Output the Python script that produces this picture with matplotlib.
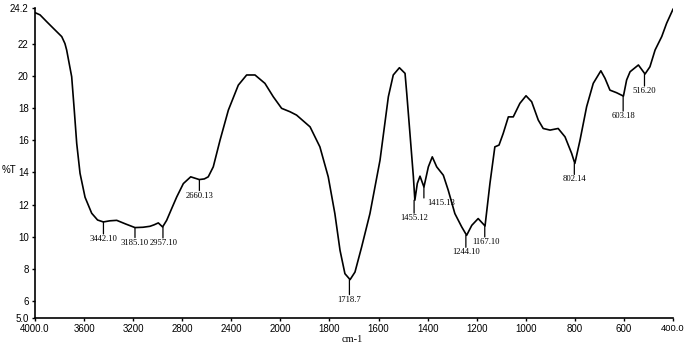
import numpy as np
import matplotlib
matplotlib.use("Agg")
import matplotlib.pyplot as plt

# FTIR spectrum (wavenumber cm-1, %T)
wavenumber = [4000, 3959, 3905, 3851, 3782, 3756, 3742, 3701, 3680, 3660, 3633, 3592, 3538, 3490, 3443,
              3390, 3334, 3260, 3185, 3120, 3063, 3030, 2995, 2960, 2927, 2886, 2845,
              2791, 2731, 2661, 2620, 2588, 2547, 2492, 2424, 2343, 2275, 2207, 2126,
              2058, 1995, 1961, 1934, 1879, 1839, 1805, 1778, 1757, 1737, 1716, 1696,
              1669, 1635, 1594, 1560, 1540, 1515, 1492, 1485, 1472, 1458, 1452, 1442,
              1431, 1415, 1397, 1381, 1363, 1336, 1316, 1289, 1261, 1241, 1220, 1194,
              1166, 1146, 1126, 1109, 1092, 1071, 1051, 1024, 999, 976, 949, 929,
              901, 868, 840, 813, 800, 779, 752, 725, 694, 677, 657, 630,
              602, 589, 575, 541, 514, 494, 473, 446, 426, 400]
transmittance = [23.92, 23.78, 23.36, 22.95, 22.43, 22.0, 21.6, 19.94, 17.87, 15.8, 13.95, 12.46, 11.47, 11.05, 10.93,
                 11.0, 11.03, 10.8, 10.58, 10.6, 10.66, 10.75, 10.87, 10.62, 11.03, 11.76, 12.48,
                 13.31, 13.73, 13.56, 13.6, 13.73, 14.35, 16.0, 17.87, 19.42, 20.05, 20.05, 19.53,
                 18.7, 17.98, 17.77, 17.56, 16.83, 15.59, 13.73, 11.45, 9.17, 7.72, 7.35, 7.82,
                 9.37, 11.45, 14.76, 18.7, 20.05, 20.5, 20.15, 18.9, 16.42, 13.73, 12.28, 13.32,
                 13.77, 13.1, 14.35, 14.97, 14.35, 13.83, 12.9, 11.45, 10.62, 10.1, 10.72, 11.14,
                 10.68, 13.32, 15.59, 15.7, 16.42, 17.45, 17.45, 18.29, 18.76, 18.39, 17.25, 16.73,
                 16.63, 16.73, 16.21, 15.18, 14.56, 16.0, 18.08, 19.53, 20.31, 19.84, 19.11, 18.95,
                 18.74, 19.74, 20.25, 20.67, 20.11, 20.56, 21.6, 22.43, 23.26, 24.13]

peak_pos = [3442.10, 3185.10, 2957.10, 2660.13, 1718.7, 1455.12, 1415.13,
            1244.10, 1167.10, 802.14, 603.18, 516.20]
peak_val = [10.93, 10.58, 10.62, 13.56, 7.35, 12.28, 13.1,
            10.1, 10.68, 14.56, 18.74, 20.11]
peak_text = ["3442.10", "3185.10", "2957.10", "2660.13", "1718.7", "1455.12", "1415.13",
             "1244.10", "1167.10", "802.14", "603.18", "516.20"]

x_ticks = [4000, 3600, 3200, 2800, 2400, 2000, 1800, 1600, 1400, 1200, 1000, 800, 600, 400]
x_tick_text = ["4000.0", "3600", "3200", "2800", "2400", "2000", "1800", "1600",
               "1400", "1200", "1000", "800", "600", "400.0"]
y_ticks = [5, 6, 8, 10, 12, 14, 16, 18, 20, 22, 24.2]
y_tick_text = ["5.0", "6", "8", "10", "12", "14", "16", "18", "20", "22", "24.2"]

# label placement (pixels below the peak, horizontal shift)
label_drop = [17, 15, 16, 16, 20, 18, 16, 17, 16, 16, 20, 17]
label_shift = [0, 0, 1, 0, 0, 0, 17, 0, 1, 0, 0, 0]


# split axis: 4000-2000 compressed, 2000-400 doubled (increasing in w)
def fwd(w):
    w = np.asarray(w, dtype=float)
    return -np.where(w >= 2000, (4000 - w) / 400, 5 + (2000 - w) / 200)


def inv(u):
    u = -np.asarray(u, dtype=float)
    return np.where(u <= 5, 4000 - 400 * u, 2000 - 200 * (u - 5))


fig = plt.figure(figsize=(6.85, 3.45), dpi=100)
ax = fig.add_axes([35 / 685, 0.0797, 638 / 685, 0.8968])
ax.set_xscale("function", functions=(fwd, inv))
ax.plot(wavenumber, transmittance, color="black", lw=1.2)
ax.set_xlim(4000, 400)
ax.set_ylim(5, 24.2)

ax.set_xticks(x_ticks)
ax.set_xticklabels(x_tick_text)
ax.set_yticks(y_ticks)
ax.set_yticklabels(y_tick_text)
ax.minorticks_off()
ax.tick_params(axis="both", direction="out", length=2.5, width=1, pad=2,
               labelsize=7)
for lab in ax.get_xticklabels() + ax.get_yticklabels():
    lab.set_family("Liberation Sans")
ax.get_xticklabels()[-1].set_fontsize(6.8)

for s in ["top", "right"]:
    ax.spines[s].set_visible(False)
for s in ["left", "bottom"]:
    ax.spines[s].set_linewidth(1.2)

for w, v, t, dy, dx in zip(peak_pos, peak_val, peak_text, label_drop, label_shift):
    ax.annotate("", xy=(w, v), xytext=(0, -(dy - 5)), textcoords="offset pixels",
                arrowprops=dict(arrowstyle="-", lw=0.9, color="black",
                                shrinkA=0, shrinkB=0))
    ax.annotate(t, xy=(w, v), xytext=(dx, -dy), textcoords="offset pixels",
                ha="center", va="center", fontsize=6.2, family="Liberation Serif")

ax.set_xlabel("cm-1", family="Liberation Serif", fontsize=7.5, labelpad=2)
ax.set_ylabel("%T", rotation=0, family="Liberation Sans", fontsize=7)
ax.yaxis.set_label_coords(-0.041, 0.46)
ax.xaxis.set_label_coords((352 - 35) / 638, -0.055)

fig.savefig("out.png", dpi=100)
